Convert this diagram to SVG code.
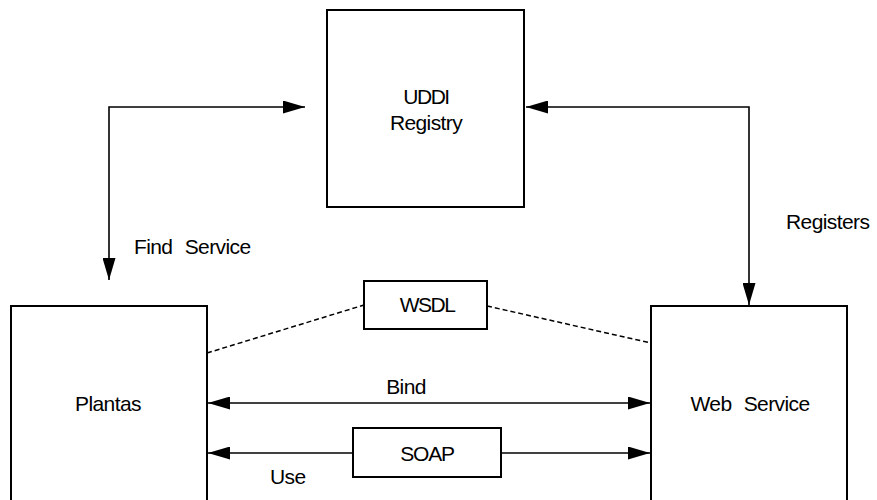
<svg xmlns="http://www.w3.org/2000/svg" width="877" height="500" viewBox="0 0 877 500">
<style>
.box{fill:#fff;stroke:#000;stroke-width:2}
.ln{fill:none;stroke:#000;stroke-width:1.6}
.dash{fill:none;stroke:#000;stroke-width:1.5;stroke-dasharray:5,3}
text{font-family:"Liberation Sans",Arial,sans-serif;font-size:21px;fill:#000;letter-spacing:-0.6px;word-spacing:7px}
.m{text-anchor:middle}
</style>
<defs>
<marker id="ah" markerWidth="22" markerHeight="13" refX="22" refY="6.5" orient="auto-start-reverse" markerUnits="userSpaceOnUse">
<path d="M0,0 L22,6.5 L0,13 Z" fill="#000"/>
</marker>
</defs>
<rect width="877" height="500" fill="#fff"/>
<g id="uddi"><rect class="box" x="327" y="10" width="197" height="197"/><text class="m" x="426" y="104" style="letter-spacing:-1.5px">UDDI</text><text class="m" x="426" y="130">Registry</text></g>
<g id="plantas"><rect class="box" x="11" y="306" width="196" height="220"/><text class="m" x="108" y="411">Plantas</text></g>
<g id="webservice"><rect class="box" x="651" y="306" width="196" height="220"/><text class="m" x="750" y="411">Web Service</text></g>
<g id="wsdl"><rect class="box" x="364" y="281" width="123" height="48"/><text class="m" x="427" y="312" style="letter-spacing:-1.5px">WSDL</text></g>
<g id="soap"><rect class="box" x="353" y="428" width="148" height="49"/><text class="m" x="427" y="461" style="letter-spacing:-1.2px">SOAP</text></g>
<g id="connectors">
<path class="ln" d="M109,280 L109,107 L305,107" marker-start="url(#ah)" marker-end="url(#ah)"/>
<path class="ln" d="M526,107 L749,107 L749,305" marker-start="url(#ah)" marker-end="url(#ah)"/>
<path class="ln" d="M208,403 L650,403" marker-start="url(#ah)" marker-end="url(#ah)"/>
<path class="ln" d="M353,453 L208,453" marker-end="url(#ah)"/>
<path class="ln" d="M501,453 L650,453" marker-end="url(#ah)"/>
<path class="dash" d="M207,353 L364,305"/>
<path class="dash" d="M487,306 L651,343"/>
<text x="134" y="254">Find Service</text>
<text x="786" y="229">Registers</text>
<text class="m" x="406" y="394">Bind</text>
<text x="270" y="484">Use</text>
</g>
</svg>
